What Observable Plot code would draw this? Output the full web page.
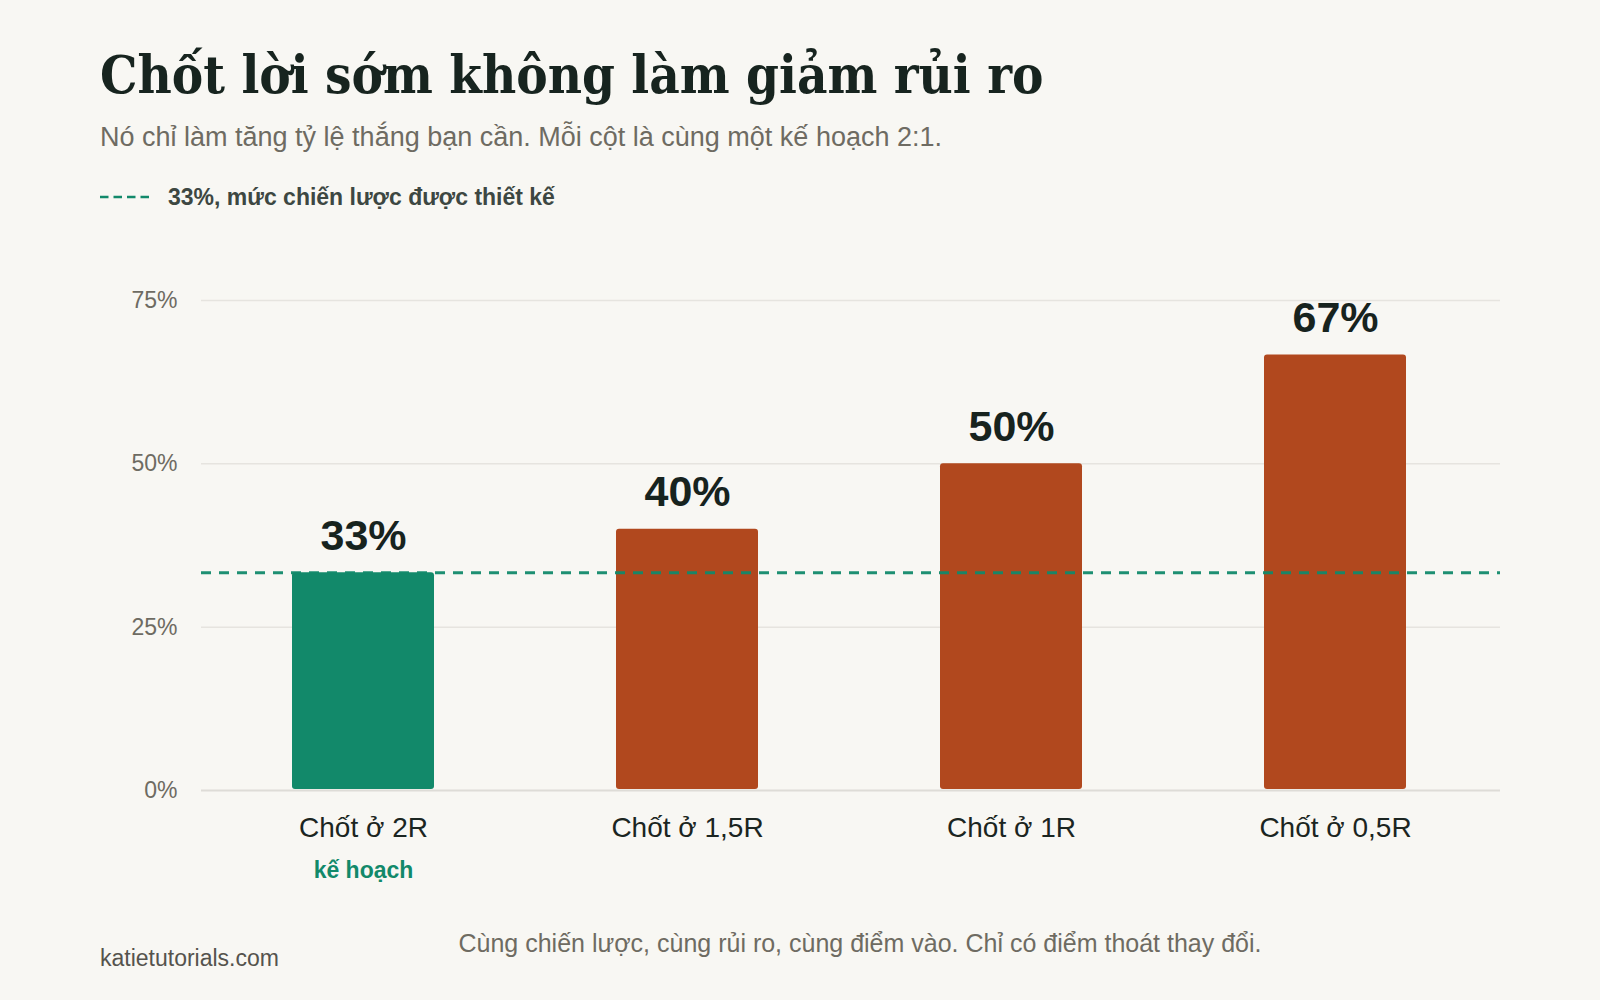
<!DOCTYPE html>
<html>
<head>
<meta charset="utf-8">
<script src="https://cdn.jsdelivr.net/npm/d3@7"></script>
<script src="https://cdn.jsdelivr.net/npm/@observablehq/plot@0.6"></script>
<style>
  html, body { margin: 0; padding: 0; background: #f8f7f3; }
  body { width: 1600px; height: 1000px; position: relative; overflow: hidden; font-family: "Liberation Sans", Arial, sans-serif; }
  #title { position: absolute; left: 100px; top: 40px; margin: 0; font-family: "DejaVu Serif Condensed", "DejaVu Serif", serif; font-stretch: condensed; font-weight: bold; font-size: 52.4px; line-height: 70px; color: #17241f; white-space: nowrap; }
  #subtitle { position: absolute; left: 100px; top: 121px; font-size: 27px; line-height: 32px; color: #6e6b62; white-space: nowrap; }
  #legend { position: absolute; left: 100px; top: 183px; height: 28px; display: flex; align-items: center; font-size: 23px; font-weight: bold; color: #3d4742; }
  #legend svg { margin-right: 18px; }
  #chart { position: absolute; left: 0; top: 240px; }
  #caption { position: absolute; left: 0; width: 1720px; text-align: center; top: 929px; font-size: 25px; color: #6e6b62; }
  #credit { position: absolute; left: 100px; top: 945px; font-size: 23px; color: #55534d; }
</style>
</head>
<body>
<div id="title"></div>
<div id="subtitle"></div>
<div id="legend"></div>
<div id="chart"></div>
<div id="caption"></div>
<div id="credit"></div>
<script>
const titleText = "Chốt lời sớm không làm giảm rủi ro";
const subtitleText = "Nó chỉ làm tăng tỷ lệ thắng bạn cần. Mỗi cột là cùng một kế hoạch 2:1.";
const legendText = "33%, mức chiến lược được thiết kế";
const captionText = "Cùng chiến lược, cùng rủi ro, cùng điểm vào. Chỉ có điểm thoát thay đổi.";
const creditText = "katietutorials.com";

const categories = ["Chốt ở 2R", "Chốt ở 1,5R", "Chốt ở 1R", "Chốt ở 0,5R"];
const winRates = [1/3, 0.40, 0.50, 2/3];
const valueLabels = ["33%", "40%", "50%", "67%"];
const notes = ["kế hoạch", "", "", ""];
const isPlan = [true, false, false, false];
const designedLevel = 1/3;
const yTicks = [0, 0.25, 0.5, 0.75];

const GREEN = "#12896a";
const RUST = "#b1481e";

document.getElementById("title").textContent = titleText;
document.getElementById("subtitle").textContent = subtitleText;
document.getElementById("caption").textContent = captionText;
document.getElementById("credit").textContent = creditText;

const legend = document.getElementById("legend");
legend.innerHTML = `<svg width="50" height="6"><line x1="0" y1="3" x2="50" y2="3" stroke="${GREEN}" stroke-width="2.5" stroke-dasharray="8.5,5"/></svg><span>${legendText}</span>`;

const data = categories.map((c, i) => ({cat: c, value: winRates[i], label: valueLabels[i], note: notes[i], plan: isPlan[i]}));

const chart = Plot.plot({
  width: 1600,
  height: 650,
  marginLeft: 201,
  marginRight: 100,
  marginTop: 60,
  marginBottom: 100,
  style: { background: "transparent", fontFamily: "'Liberation Sans', Arial, sans-serif" },
  x: { domain: categories, paddingInner: 0.563, paddingOuter: 0.2815, align: 0.49 },
  y: { domain: [0, 0.75] },
  color: { domain: [true, false], range: [GREEN, RUST] },
  marks: [
    Plot.ruleY(yTicks.filter(d => d > 0), { stroke: "#e6e4df", strokeWidth: 1.5 }),
    Plot.ruleY([0], { stroke: "#dedcd7", strokeWidth: 2 }),
    Plot.barY(data, { x: "cat", y: "value", fill: "plan", rx: 3, insetBottom: 1 }),
    Plot.ruleY([designedLevel], { stroke: GREEN, strokeWidth: 3, strokeDasharray: "10,8", strokeOpacity: 0.95 }),
    Plot.text(data, { x: "cat", y: "value", text: "label", dy: -23, lineAnchor: "bottom", fontSize: 43, fontWeight: "bold", fill: "#17231e" }),
    Plot.axisY({ ticks: yTicks, tickFormat: d3.format(".0%"), tickSize: 0, tickPadding: 24, fontSize: 23, color: "#6e6b62", label: null }),
    Plot.axisX({ tickSize: 0, tickPadding: 27, fontSize: 28, color: "#1b2521", label: null }),
    Plot.text(data.filter(d => d.note), { x: "cat", y: 0, text: "note", dy: 80, fontSize: 23, fontWeight: "bold", fill: GREEN, lineAnchor: "middle" })
  ]
});
document.getElementById("chart").appendChild(chart);
</script>
</body>
</html>
